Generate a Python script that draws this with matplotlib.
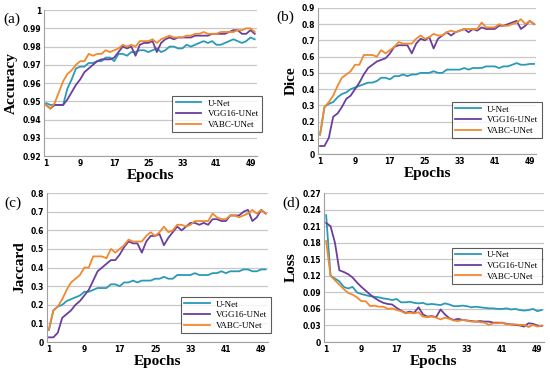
import matplotlib
matplotlib.use("Agg")
import matplotlib.pyplot as plt
import numpy as np

epochs = np.arange(1, 51)
models = ["U-Net", "VGG16-UNet", "VABC-UNet"]
colors = ["#2A9BB7", "#6A3F9E", "#F08A2E"]

# Accuracy
acc_unet = [0.949, 0.948, 0.948, 0.948, 0.948, 0.957, 0.962, 0.968, 0.969, 0.969,
            0.971, 0.971, 0.972, 0.972, 0.974, 0.974, 0.972, 0.976, 0.976, 0.975,
            0.977, 0.977, 0.978, 0.978, 0.977, 0.978, 0.979, 0.977, 0.978, 0.980,
            0.980, 0.979, 0.979, 0.981, 0.980, 0.981, 0.982, 0.983, 0.982, 0.983,
            0.981, 0.981, 0.982, 0.983, 0.984, 0.983, 0.982, 0.983, 0.985, 0.984]
acc_vgg = [0.948, 0.946, 0.948, 0.948, 0.948, 0.951, 0.955, 0.959, 0.962, 0.966,
           0.968, 0.970, 0.972, 0.973, 0.973, 0.973, 0.974, 0.977, 0.980, 0.979,
           0.980, 0.975, 0.981, 0.982, 0.982, 0.983, 0.977, 0.982, 0.984, 0.985,
           0.984, 0.985, 0.985, 0.985, 0.985, 0.986, 0.986, 0.986, 0.986, 0.987,
           0.987, 0.987, 0.987, 0.988, 0.989, 0.989, 0.987, 0.987, 0.989, 0.987]
acc_vabc = [0.948, 0.946, 0.949, 0.955, 0.961, 0.965, 0.967, 0.970, 0.972, 0.972,
            0.976, 0.975, 0.976, 0.976, 0.978, 0.977, 0.978, 0.979, 0.981, 0.980,
            0.981, 0.980, 0.983, 0.983, 0.983, 0.984, 0.982, 0.984, 0.985, 0.986,
            0.985, 0.985, 0.985, 0.986, 0.986, 0.987, 0.987, 0.988, 0.987, 0.987,
            0.987, 0.988, 0.988, 0.988, 0.988, 0.989, 0.989, 0.990, 0.990, 0.988]

# Dice
dice_unet = [0.12, 0.29, 0.31, 0.32, 0.35, 0.37, 0.38, 0.40, 0.41, 0.42,
             0.43, 0.44, 0.44, 0.45, 0.47, 0.47, 0.46, 0.48, 0.48, 0.49,
             0.48, 0.49, 0.49, 0.50, 0.50, 0.50, 0.51, 0.50, 0.50, 0.52,
             0.52, 0.52, 0.52, 0.53, 0.52, 0.53, 0.53, 0.53, 0.54, 0.54,
             0.54, 0.53, 0.54, 0.54, 0.55, 0.56, 0.55, 0.55, 0.555, 0.555]
dice_vgg = [0.05, 0.05, 0.10, 0.23, 0.25, 0.29, 0.34, 0.36, 0.40, 0.44,
            0.49, 0.53, 0.55, 0.57, 0.58, 0.59, 0.62, 0.66, 0.67, 0.67,
            0.67, 0.62, 0.68, 0.71, 0.70, 0.72, 0.65, 0.71, 0.73, 0.75,
            0.73, 0.75, 0.76, 0.77, 0.75, 0.77, 0.76, 0.78, 0.77, 0.77,
            0.77, 0.79, 0.79, 0.80, 0.81, 0.82, 0.77, 0.79, 0.82, 0.80]
dice_vabc = [0.12, 0.29, 0.32, 0.36, 0.42, 0.47, 0.49, 0.51, 0.55, 0.55,
             0.61, 0.61, 0.61, 0.60, 0.64, 0.62, 0.64, 0.66, 0.69, 0.68,
             0.68, 0.68, 0.71, 0.73, 0.71, 0.72, 0.74, 0.73, 0.73, 0.75,
             0.76, 0.75, 0.76, 0.77, 0.77, 0.77, 0.77, 0.81, 0.78, 0.78,
             0.78, 0.80, 0.79, 0.79, 0.80, 0.81, 0.83, 0.80, 0.82, 0.80]

# Jaccard
jac_unet = [0.065, 0.17, 0.19, 0.20, 0.22, 0.23, 0.24, 0.25, 0.27, 0.27,
            0.28, 0.29, 0.29, 0.29, 0.31, 0.31, 0.30, 0.32, 0.32, 0.33,
            0.32, 0.33, 0.33, 0.33, 0.34, 0.34, 0.35, 0.34, 0.34, 0.36,
            0.36, 0.36, 0.36, 0.37, 0.36, 0.36, 0.36, 0.37, 0.37, 0.38,
            0.37, 0.38, 0.38, 0.38, 0.39, 0.39, 0.38, 0.38, 0.39, 0.39]
jac_vgg = [0.025, 0.025, 0.05, 0.13, 0.15, 0.17, 0.20, 0.22, 0.25, 0.28,
           0.33, 0.38, 0.40, 0.42, 0.44, 0.44, 0.47, 0.51, 0.54, 0.53,
           0.53, 0.48, 0.54, 0.57, 0.57, 0.58, 0.52, 0.56, 0.59, 0.62,
           0.60, 0.62, 0.64, 0.64, 0.63, 0.64, 0.63, 0.66, 0.66, 0.65,
           0.65, 0.68, 0.68, 0.68, 0.70, 0.71, 0.65, 0.67, 0.71, 0.69]
jac_vabc = [0.07, 0.17, 0.19, 0.23, 0.28, 0.32, 0.34, 0.36, 0.40, 0.40,
            0.46, 0.46, 0.46, 0.45, 0.50, 0.48, 0.50, 0.52, 0.55, 0.54,
            0.54, 0.54, 0.57, 0.59, 0.57, 0.59, 0.62, 0.59, 0.60, 0.63,
            0.63, 0.62, 0.63, 0.65, 0.65, 0.65, 0.65, 0.69, 0.67, 0.66,
            0.66, 0.68, 0.68, 0.67, 0.68, 0.69, 0.71, 0.69, 0.71, 0.69]

# Loss
loss_unet = [0.230, 0.120, 0.115, 0.110, 0.100, 0.097, 0.100, 0.090, 0.087, 0.085,
             0.083, 0.082, 0.081, 0.079, 0.078, 0.076, 0.078, 0.072, 0.072, 0.073,
             0.071, 0.070, 0.071, 0.068, 0.069, 0.068, 0.067, 0.070, 0.068, 0.065,
             0.065, 0.066, 0.065, 0.063, 0.064, 0.063, 0.062, 0.061, 0.061, 0.060,
             0.060, 0.061, 0.059, 0.060, 0.058, 0.057, 0.058, 0.060, 0.056, 0.058]
loss_vgg = [0.216, 0.210, 0.180, 0.130, 0.127, 0.123, 0.117, 0.108, 0.100, 0.093,
            0.086, 0.080, 0.075, 0.071, 0.069, 0.068, 0.062, 0.057, 0.053, 0.055,
            0.053, 0.063, 0.050, 0.046, 0.047, 0.045, 0.059, 0.050, 0.043, 0.040,
            0.042, 0.040, 0.039, 0.038, 0.037, 0.038, 0.037, 0.037, 0.035, 0.035,
            0.035, 0.033, 0.032, 0.031, 0.030, 0.028, 0.034, 0.033, 0.030, 0.029]
loss_vabc = [0.183, 0.120, 0.112, 0.104, 0.096, 0.089, 0.086, 0.081, 0.074, 0.074,
             0.065, 0.066, 0.064, 0.064, 0.060, 0.061, 0.058, 0.056, 0.052, 0.053,
             0.052, 0.054, 0.046, 0.045, 0.046, 0.044, 0.041, 0.044, 0.042, 0.039,
             0.038, 0.040, 0.039, 0.037, 0.037, 0.036, 0.035, 0.031, 0.034, 0.034,
             0.035, 0.032, 0.032, 0.032, 0.031, 0.031, 0.027, 0.031, 0.028, 0.030]

xticks = [1, 9, 17, 25, 33, 41, 49]

# panel: label, ylabel, series, yticks, ytick format, axes rect, legend anchor (upper right, figure coords)
panels = [
    ("(a)", "Accuracy", [acc_unet, acc_vgg, acc_vabc],
     np.arange(0.92, 1.0001, 0.01), "{:.2f}",
     [0.080, 0.584, 0.387, 0.389], (0.477, 0.745)),
    ("(b)", "Dice", [dice_unet, dice_vgg, dice_vabc],
     np.arange(0, 0.9001, 0.1), "{:.1f}",
     [0.578, 0.589, 0.397, 0.390], (0.985, 0.729)),
    ("(c)", "Jaccard", [jac_unet, jac_vgg, jac_vabc],
     np.arange(0, 0.8001, 0.1), "{:.1f}",
     [0.085, 0.088, 0.402, 0.397], (0.492, 0.209)),
    ("(d)", "Loss", [loss_unet, loss_vgg, loss_vabc],
     np.arange(0, 0.27001, 0.03), "{:.2f}",
     [0.589, 0.088, 0.400, 0.397], (0.985, 0.340)),
]

fig = plt.figure(figsize=(5.5, 3.75), dpi=100)
serif = "Liberation Serif"

for label, ylabel, series, yt, fmt, rect, lanchor in panels:
    ax = fig.add_axes(rect)
    for vals, name, c in zip(series, models, colors):
        ax.plot(epochs, vals, color=c, lw=1.3, label=name)
    ax.set_xlim(0.5, 50.5)
    ax.set_ylim(yt[0], yt[-1])
    ax.set_xticks(xticks)
    ax.set_yticks(yt)
    labels = []
    for v in yt:
        s = fmt.format(v)
        if abs(v) < 1e-9:
            s = "0"
        elif abs(v - 1) < 1e-9:
            s = "1"
        labels.append(s)
    ax.set_yticklabels(labels)
    ax.tick_params(length=0, labelsize=5.5, pad=2)
    for t in ax.get_xticklabels() + ax.get_yticklabels():
        t.set_fontweight("bold")
    ax.grid(axis="y", color="#C8C8C8", lw=0.9)
    ax.set_axisbelow(True)
    for s in ["top", "right"]:
        ax.spines[s].set_visible(False)
    for s in ["left", "bottom"]:
        ax.spines[s].set_color("#A0A0A0")
        ax.spines[s].set_linewidth(0.8)
    ax.set_xlabel("Epochs", fontfamily=serif, fontweight="bold", fontsize=11, labelpad=1)
    ax.set_ylabel(ylabel, fontfamily=serif, fontweight="bold", fontsize=11, labelpad=3)
    ax.text(-0.19, 0.91, label, transform=ax.transAxes, fontfamily=serif, fontsize=11)
    leg = ax.legend(loc="upper right", bbox_to_anchor=lanchor, bbox_transform=fig.transFigure,
                    prop={"family": serif, "size": 6.5}, frameon=True, fancybox=False,
                    handlelength=2.8, borderpad=0.4, labelspacing=0.25, handletextpad=0.7,
                    borderaxespad=0)
    leg.get_frame().set_edgecolor("#333333")
    leg.get_frame().set_linewidth(0.8)

fig.savefig("out.png", dpi=100)
